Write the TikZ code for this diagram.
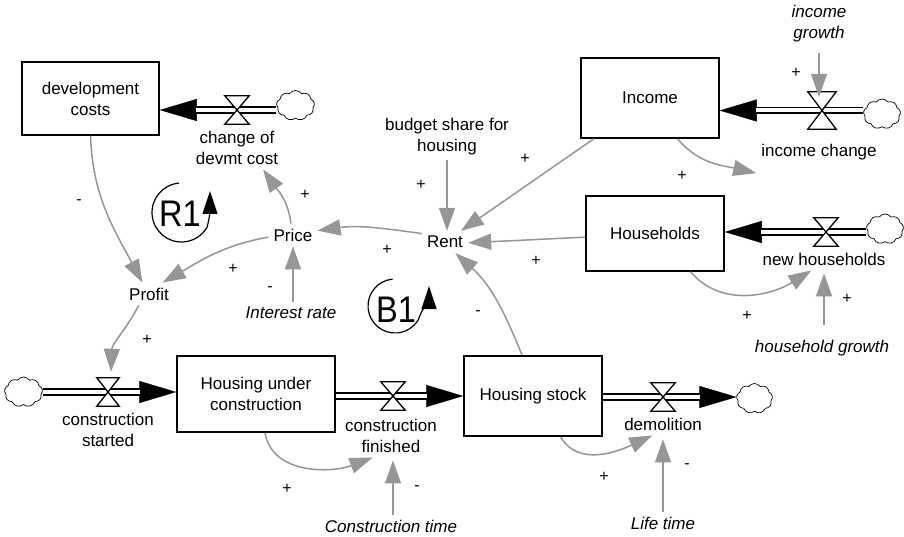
\documentclass[tikz,border=0pt]{standalone}
\usepackage{graphicx}
\usepackage{fontspec}
\setmainfont{Liberation Sans}
\usetikzlibrary{arrows.meta,shapes.symbols,calc}
\definecolor{lk}{RGB}{150,150,150}
\tikzset{
  base/.style={font=\fontsize{17}{21}\selectfont},
  stock/.style={base,draw=black,line width=1.5pt,fill=white,align=center,inner sep=0pt},
  var/.style={base,align=center,inner sep=5pt},
  ivar/.style={var,font=\fontsize{17}{21}\selectfont\itshape},
  sgn/.style={font=\fontsize{16}{16}\selectfont,inner sep=0pt},
  valve/.style={inner sep=0pt,minimum width=24pt,minimum height=28pt},
  valveline/.style={draw=black,line width=1.3pt,fill=white,line join=miter},
  cloudy/.style={cloud,cloud puffs=9,cloud puff arc=110,draw=black,line width=0.7pt,inner sep=0pt,minimum width=#1,minimum height=30pt},
  cloudy/.default=37pt,
  pipe/.style={draw=black,line width=1.7pt,double=white,double distance=4pt,shorten >=36.5pt},
  pipehead/.style={draw=black,line width=0.4pt,-{Triangle[length=37pt,width=22pt]}},
  link/.style={color=lk,line width=1.5pt,-{Triangle[length=23pt,width=16pt]}},
  loopline/.style={draw=black,line width=1.2pt,-{Triangle[length=23pt,width=15pt]}},
  looptext/.style={font=\fontsize{37}{37}\selectfont,inner sep=0pt}
}
\begin{document}
\begin{tikzpicture}[x=1pt,y=1pt]
\fill[white] (0,0) rectangle (904,-537);
\useasboundingbox (0,0) rectangle (904,-537);

% stocks
\node[stock,minimum width=137pt,minimum height=73pt] (dev) at (90.5,-98.5) {development\\costs};
\node[stock,minimum width=138pt,minimum height=80pt] (income) at (650,-98) {Income};
\node[stock,minimum width=138pt,minimum height=75pt] (hh) at (655,-233.5) {Households};
\node[stock,minimum width=158pt,minimum height=76pt] (huc) at (256,-394) {Housing under\\construction};
\node[stock,minimum width=138pt,minimum height=80pt] (hs) at (533,-396) {Housing stock};

% valves (positions)
\node[valve] (vdev) at (237,-110) {};
\node[valve,minimum width=28pt,minimum height=37pt] (vinc) at (822,-110.5) {};
\node[valve] (vnh) at (826,-232) {};
\node[valve,minimum width=22pt] (vcs) at (108,-392) {};
\node[valve] (vcf) at (393,-396) {};
\node[valve] (vdem) at (663,-397) {};

% clouds
\node[cloudy=38pt] (cdev) at (295.5,-105.5) {};
\node[cloudy] (cinc) at (882,-114) {};
\node[cloudy] (cnh) at (885,-229) {};
\node[cloudy=38pt] (ccs) at (23.5,-392) {};
\node[cloudy=36pt] (cdem) at (754.5,-398.5) {};

% pipes
\draw[pipehead] (vdev -| cdev.west) -- (vdev -| dev.east);
\draw[pipe] (vdev -| cdev.west) -- (vdev -| dev.east);
\draw[pipehead] (vinc -| cinc.west) -- (vinc -| income.east);
\draw[pipe] (vinc -| cinc.west) -- (vinc -| income.east);
\draw[pipehead] (vnh -| cnh.west) -- (vnh -| hh.east);
\draw[pipe] (vnh -| cnh.west) -- (vnh -| hh.east);
\draw[pipehead] (vcs -| ccs.east) -- (vcs -| huc.west);
\draw[pipe] (vcs -| ccs.east) -- (vcs -| huc.west);
\draw[pipehead] (vcf -| huc.east) -- (vcf -| hs.west);
\draw[pipe] (vcf -| huc.east) -- (vcf -| hs.west);
\draw[pipehead] (vdem -| hs.east) -- (vdem -| cdem.west);
\draw[pipe] (vdem -| hs.east) -- (vdem -| cdem.west);

% valve bowties
\foreach \v in {vdev,vinc,vnh,vcs,vcf,vdem}
  \draw[valveline] (\v.north west) -- (\v.north east) -- (\v.south west) -- (\v.south east) -- cycle;

% flow labels
\node[var] (cdm) at (237,-147.5) {change of\\devmt cost};
\node[var] (incch) at (819,-152) {income change};
\node[var] (nhl) at (824,-259) {new households};
\node[var] (csl) at (108,-429.5) {construction\\started};
\node[var] (cfl) at (391,-435.5) {construction\\finished};
\node[var] (deml) at (663,-424) {demolition};

% auxiliaries
\node[var] (price) at (293,-235) {Price};
\node[var] (profit) at (149,-294) {Profit};
\node[var] (rent) at (445,-242) {Rent};
\node[var] (budget) at (447,-136.5) {budget share for\\housing};
\node[ivar] (interest) at (291,-313) {Interest rate};
\node[ivar] (incg) at (819,-23.5) {income\\growth};
\node[ivar] (hhg) at (822,-348) {household growth};
\node[ivar] (ctime) at (391,-526) {Construction time};
\node[ivar] (ltime) at (663,-523) {Life time};

% links
\draw[link] (dev.south) to[out=-88,in=118] (profit.120);
\draw[link] (price.100) to[out=97,in=-55] (cdm.-40);
\draw[link] (rent.160) to[out=172,in=8] (price.10);
\draw[link] (price.185) to[out=190,in=30] (profit.40);
\draw[link] (interest.north -| price) -- (price.south);
\draw[link] (budget.south) -- (budget.south |- rent.north);
\draw[link] (income.216) -- (rent.35);
\draw[link] (income.-56) to[out=-50,in=167] ([yshift=-8pt]incch.south west);
\draw[link] (hh.183) -- (rent.-2);
\draw[link] (hh.-47) to[out=-50,in=212] (nhl.222);
\draw[link,shorten <=10pt,shorten >=3pt] (hhg.north -| nhl) -- (nhl.south);
\draw[link,shorten <=6pt] (incg.south) -- ([yshift=-5pt]incg.south |- vinc.north);
\draw[link] (profit.228) to[out=-118,in=88] ([shift={(3pt,6pt)}]vcs.north);
\draw[link] (huc.-77) to[out=-80,in=201] (cfl.230);
\draw[link,shorten >=3pt] (ctime.north -| vcf) -- (cfl.south -| vcf);
\draw[link] (hs.-56) to[out=-60,in=205] (deml.227);
\draw[link,shorten >=4pt] (ltime) -- (deml);
\draw[link] (hs.105) to[out=112,in=-42] (rent.-47);

% polarity signs
\node[sgn] (s1) at (79,-202) {-};
\node[sgn] (s2) at (305,-195) {+};
\node[sgn] (s3) at (387,-250) {+};
\node[sgn] (s4) at (233,-269) {+};
\node[sgn] (s5) at (270,-289) {-};
\node[sgn] (s6) at (421,-185) {+};
\node[sgn] (s7) at (525,-159) {+};
\node[sgn] (s8) at (682,-176) {+};
\node[sgn] (s9) at (796,-73) {+};
\node[sgn] (s10) at (536,-261) {+};
\node[sgn] (s11) at (747,-316) {+};
\node[sgn] (s12) at (847,-299) {+};
\node[sgn] (s13) at (478,-313) {-};
\node[sgn] (s14) at (147,-340) {+};
\node[sgn] (s15) at (287,-489) {+};
\node[sgn] (s16) at (417,-488) {-};
\node[sgn] (s17) at (604,-477) {+};
\node[sgn] (s18) at (687,-466) {-};

% loop symbols
\node[looptext] (r1) at (180,-214) {\scalebox{0.88}[1]{R1}};
\coordinate (r1c) at (181.5,-212.5);
\coordinate (r1tip) at (210,-191);
\draw[loopline] ([shift={(95:29.5pt)}]r1c) arc[start angle=95,end angle=330,radius=29.5pt] to[out=75,in=-90] (r1tip);
\node[looptext] (b1) at (396,-309.5) {\scalebox{0.88}[1]{B1}};
\coordinate (b1c) at (395,-306);
\coordinate (b1tip) at (429,-286);
\draw[loopline] ([shift={(95:27pt)}]b1c) arc[start angle=95,end angle=330,radius=27pt] to[out=70,in=-90] (b1tip);
\end{tikzpicture}
\end{document}
